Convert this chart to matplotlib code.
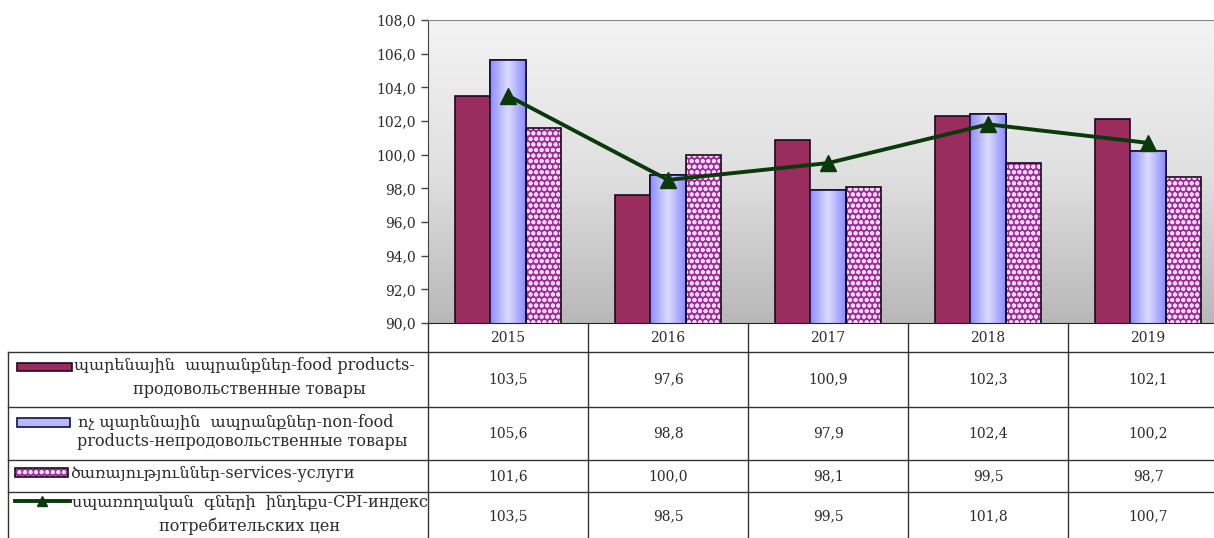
import numpy as np
import matplotlib
matplotlib.use("Agg")
import matplotlib.pyplot as plt
from matplotlib.colors import LinearSegmentedColormap
from matplotlib.patches import Rectangle
from matplotlib.lines import Line2D

# data
years = ["2015", "2016", "2017", "2018", "2019"]
food = [103.5, 97.6, 100.9, 102.3, 102.1]
nonfood = [105.6, 98.8, 97.9, 102.4, 100.2]
services = [101.6, 100.0, 98.1, 99.5, 98.7]
cpi = [103.5, 98.5, 99.5, 101.8, 100.7]
yticks = [90, 92, 94, 96, 98, 100, 102, 104, 106, 108]

food_lbl = ["պարենային  ապրանքներ-food products-", "продовольственные товары"]
nonfood_lbl = ["ոչ պարենային  ապրանքներ-non-food", "products-непродовольственные товары"]
services_lbl = ["ծառայություններ-services-услуги"]
cpi_lbl = ["սպառողական  գների  ինդեքս-CPI-индекс", "потребительских цен"]

FONT = ["DejaVu Serif", "DejaVu Sans"]
plt.rcParams["font.family"] = FONT
plt.rcParams["hatch.linewidth"] = 1.3

c_food = "#9b2d5e"
c_nonfood = "#9999ff"
c_serv = "#9c2c98"
c_cpi = "#0a3a0a"
c_txt = "#2b2b2b"

W, H = 1214, 538
fig = plt.figure(figsize=(W / 100, H / 100), dpi=100)

# plot area in pixel terms
L, R, T, B = 428, 1228, 20, 323
ax = fig.add_axes([L / W, (H - B) / H, (R - L) / W, (B - T) / H])

# gray gradient background
grad = np.linspace(0, 1, 256).reshape(-1, 1)
bg_cmap = LinearSegmentedColormap.from_list("bg", ["#f3f3f3", "#e0e0e0", "#b8b8b8"])
ax.imshow(grad, cmap=bg_cmap, extent=[0, 1, 0, 1], transform=ax.transAxes,
          aspect="auto", zorder=0, origin="upper")

x = np.arange(len(years))
w = 0.222
ax.bar(x - w, food, w, color=c_food, edgecolor="#1a0a20", linewidth=1.2, zorder=2)

# non-food: light centre, darker edges
nf_cmap = LinearSegmentedColormap.from_list("nf", ["#8c8cff", "#dcdcff", "#8c8cff"])
hgrad = np.linspace(0, 1, 64).reshape(1, -1)
nf_bars = ax.bar(x, nonfood, w, color=c_nonfood, edgecolor="#10103a", linewidth=1.2, zorder=2)
for b in nf_bars:
    im = ax.imshow(hgrad, cmap=nf_cmap, aspect="auto", zorder=2.1,
                   extent=[b.get_x(), b.get_x() + b.get_width(), 90, b.get_height()])
    im.set_clip_path(b)
ax.bar(x, nonfood, w, fill=False, edgecolor="#10103a", linewidth=1.2, zorder=2.2)

# services: dotted pattern
ax.bar(x + w, services, w, color=c_serv, edgecolor="#f6d6f6", hatch="ooo", linewidth=0, zorder=2)
ax.bar(x + w, services, w, fill=False, edgecolor="#1a0a20", linewidth=1.2, zorder=2.2)

ax.plot(x, cpi, color=c_cpi, linewidth=2.8, marker="^", markersize=12, zorder=3)

ax.set_xlim(-0.5, len(years) - 0.5)
ax.set_ylim(90, 108)
ax.set_yticks(yticks)
ax.set_yticklabels([f"{v:.1f}".replace(".", ",") for v in yticks], fontsize=10, color=c_txt)
ax.set_xticks([])
ax.tick_params(axis="y", direction="out", length=5, width=1, color="#444444", pad=4)
ax.spines["right"].set_visible(False)
ax.spines["top"].set_color("#8a8a8a")
ax.spines["left"].set_color("#444444")
ax.spines["bottom"].set_color("#222222")

# data table under the plot, drawn in pixel coordinates
tax = fig.add_axes([0, 0, 1, 1])
tax.set_xlim(0, W)
tax.set_ylim(H, 0)
tax.axis("off")

col_x = [L + i * 160 for i in range(len(years) + 1)]
rows_y = [B, 352, 407, 460, 492, H + 2]
lc = "#333333"
for cx in col_x:
    tax.plot([cx, cx], [B, H], color=lc, linewidth=1)
tax.plot([8, 8], [rows_y[1], H], color=lc, linewidth=1)
for ry in rows_y[1:5]:
    tax.plot([8, R], [ry, ry], color=lc, linewidth=1)

for i, yr in enumerate(years):
    cx = L + 80 + i * 160
    tax.text(cx, 338, yr, ha="center", va="center", fontsize=10, color=c_txt)

series = [food, nonfood, services, cpi]
for r, vals in enumerate(series):
    cy = (rows_y[r + 1] + rows_y[r + 2]) / 2
    for i, v in enumerate(vals):
        tax.text(L + 80 + i * 160, cy, f"{v:.1f}".replace(".", ","),
                 ha="center", va="center", fontsize=10, color=c_txt)

# legend keys and labels
fs = 11.5
tax.add_patch(Rectangle((17, 363), 55, 8, facecolor=c_food, edgecolor="#1a0a20", linewidth=1.2))
tax.text(74, 366, food_lbl[0], ha="left", va="center", fontsize=fs, color=c_txt)
tax.text(249, 389, food_lbl[1], ha="center", va="center", fontsize=fs, color=c_txt)

tax.add_patch(Rectangle((17, 418), 53, 9, facecolor="#b8b8ff", edgecolor="#10103a", linewidth=1.2))
tax.text(78, 422, nonfood_lbl[0], ha="left", va="center", fontsize=fs, color=c_txt)
tax.text(242, 442, nonfood_lbl[1], ha="center", va="center", fontsize=fs, color=c_txt)

tax.add_patch(Rectangle((15, 468), 53, 9, facecolor=c_serv, edgecolor="#f6d6f6", hatch="ooo", linewidth=0))
tax.add_patch(Rectangle((15, 468), 53, 9, fill=False, edgecolor="#1a0a20", linewidth=1.2))
tax.text(70, 473, services_lbl[0], ha="left", va="center", fontsize=fs, color=c_txt)

tax.add_line(Line2D([15, 70], [501, 501], color=c_cpi, linewidth=2.8))
tax.add_line(Line2D([42], [501], color=c_cpi, marker="^", markersize=7))
tax.text(72, 502, cpi_lbl[0], ha="left", va="center", fontsize=fs, color=c_txt)
tax.text(250, 526, cpi_lbl[1], ha="center", va="center", fontsize=fs, color=c_txt)

fig.savefig("out.png", dpi=100, facecolor="white")
